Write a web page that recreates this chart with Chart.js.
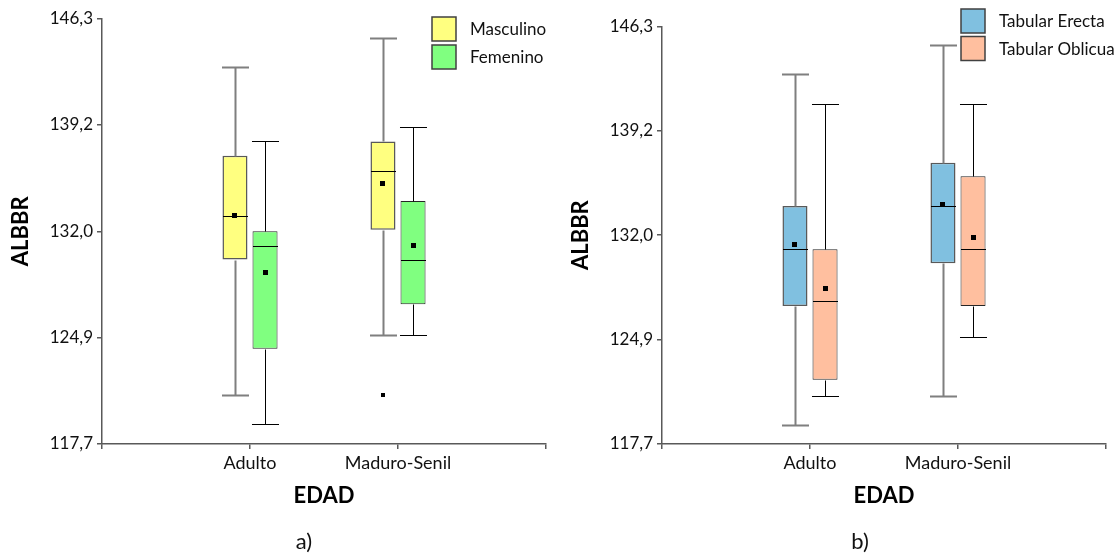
<!DOCTYPE html>
<html>
<head>
<meta charset="utf-8">
<script src="https://cdn.jsdelivr.net/npm/chart.js@4.4.1/dist/chart.umd.min.js"></script>
<style>
  html, body { margin: 0; padding: 0; background: #fff; }
  .wrap { position: absolute; top: 0; width: 560px; height: 559px; }
</style>
</head>
<body>
<div class="wrap" style="left:0"><canvas id="chartA" width="560" height="559"></canvas></div>
<div class="wrap" style="left:560px"><canvas id="chartB" width="560" height="559"></canvas></div>
<script>
const categories = ['Adulto', 'Maduro-Senil'];
const yTickValues = [117.7, 124.85, 132.0, 139.15, 146.3];
const yTickLabels = ['117,7', '124,9', '132,0', '139,2', '146,3'];

// a) by sex
const mascMin = [121.0, 125.05];
const mascQ1 = [130.1, 132.1];
const mascMedian = [133.05, 136.03];
const mascQ3 = [137.08, 138.04];
const mascMax = [143.05, 145.0];
const mascMean = [133.05, 135.2];
const mascOutliers = [[], [121.0]];

const femMin = [119.05, 125.05];
const femQ1 = [124.1, 127.1];
const femMedian = [131.0, 130.06];
const femQ3 = [132.0, 134.04];
const femMax = [138.04, 139.0];
const femMean = [129.2, 131.04];
const femOutliers = [[], []];

// b) by deformation type
const erectaMin = [119.0, 121.0];
const erectaQ1 = [127.15, 130.07];
const erectaMedian = [131.03, 134.0];
const erectaQ3 = [134.0, 136.95];
const erectaMax = [143.0, 145.05];
const erectaMean = [131.37, 134.1];
const erectaOutliers = [[], []];

const oblicuaMin = [121.0, 125.03];
const oblicuaQ1 = [122.1, 127.15];
const oblicuaMedian = [127.5, 131.03];
const oblicuaQ3 = [131.03, 136.04];
const oblicuaMax = [140.99, 141.0];
const oblicuaMean = [128.33, 131.82];
const oblicuaOutliers = [[], []];

const axisColor = '#595959';
const textColor = '#111';

// empty slots at both ends so the categories sit at 1/3 and 2/3 of the axis
const xLabels = ['', ...categories, ''];

function boxDataset(label, color, border, borderWidth, whiskerColor, whiskerWidth, mins, q1s, meds, q3s, maxs, means, outs) {
  const stats = [null];
  const data = [null];
  categories.forEach((c, i) => {
    data.push([q1s[i], q3s[i]]);
    stats.push({ min: mins[i], q1: q1s[i], median: meds[i], q3: q3s[i], max: maxs[i], mean: means[i], outliers: outs[i] });
  });
  data.push(null);
  stats.push(null);
  return {
    label,
    data,
    stats,
    backgroundColor: color,
    borderColor: border,
    borderWidth,
    borderSkipped: false,
    whiskerColor,
    whiskerWidth,
    categoryPercentage: 0.406,
    barPercentage: 0.833,
  };
}

const boxPlot = {
  id: 'boxPlot',
  afterDatasetsDraw(chart) {
    const { ctx } = chart;
    const y = chart.scales.y;
    chart.data.datasets.forEach((ds, di) => {
      chart.getDatasetMeta(di).data.forEach((bar, i) => {
        const s = ds.stats[i];
        if (!s) return;
        const x = Math.round(bar.x) + 0.5;
        const half = bar.width / 2;
        const py = (v) => Math.round(y.getPixelForValue(v)) + 0.5;
        ctx.save();
        ctx.strokeStyle = ds.whiskerColor;
        ctx.lineWidth = ds.whiskerWidth;
        ctx.beginPath();
        ctx.moveTo(x, py(s.q3));
        ctx.lineTo(x, py(s.max));
        ctx.moveTo(x - half - 1, py(s.max));
        ctx.lineTo(x + half + 1, py(s.max));
        ctx.moveTo(x, py(s.q1));
        ctx.lineTo(x, py(s.min));
        ctx.moveTo(x - half - 1, py(s.min));
        ctx.lineTo(x + half + 1, py(s.min));
        ctx.stroke();

        // median
        ctx.strokeStyle = '#000';
        ctx.lineWidth = 1;
        ctx.beginPath();
        ctx.moveTo(x - half, py(s.median));
        ctx.lineTo(x + half, py(s.median));
        ctx.stroke();

        // mean and outliers
        ctx.fillStyle = '#000';
        const my = y.getPixelForValue(s.mean);
        ctx.fillRect(Math.round(bar.x - 2.5), Math.round(my - 2.5), 5, 5);
        s.outliers.forEach((o) => {
          const oy = y.getPixelForValue(o);
          ctx.fillRect(Math.round(bar.x - 2), Math.round(oy - 2), 4, 4);
        });
        ctx.restore();
      });
    });
  },
};

const boxLegend = {
  id: 'boxLegend',
  afterDraw(chart, args, opts) {
    const { ctx } = chart;
    chart.data.datasets.forEach((ds, i) => {
      const top = opts.y + i * opts.step;
      ctx.save();
      ctx.fillStyle = ds.backgroundColor;
      ctx.fillRect(opts.x, top, opts.box, opts.box);
      ctx.strokeStyle = '#404040';
      ctx.lineWidth = 1.5;
      ctx.strokeRect(opts.x, top, opts.box, opts.box);
      ctx.fillStyle = textColor;
      ctx.font = '17px Lato';
      ctx.textBaseline = 'middle';
      ctx.textAlign = 'left';
      ctx.fillText(ds.label, opts.x + opts.box + 14, top + opts.box / 2 + 1);
      ctx.restore();
    });
  },
};

const caption = {
  id: 'caption',
  afterDraw(chart, args, opts) {
    const { ctx } = chart;
    ctx.save();
    ctx.fillStyle = textColor;
    ctx.font = '22px Lato';
    ctx.textAlign = 'center';
    ctx.textBaseline = 'middle';
    ctx.fillText(opts.text, opts.x, opts.y);
    ctx.restore();
  },
};

function makeChart(id, datasets, topPad, legendPos, captionText, captionX) {
  return new Chart(document.getElementById(id), {
    type: 'bar',
    data: { labels: xLabels, datasets },
    options: {
      responsive: false,
      animation: false,
      devicePixelRatio: 1,
      layout: { padding: { top: topPad, right: 14, bottom: 0, left: 0 } },
      plugins: {
        legend: { display: false },
        tooltip: { enabled: false },
        boxLegend: legendPos,
        caption: { text: captionText, x: captionX, y: 542 },
      },
      scales: {
        x: {
          offset: false,
          grid: { offset: false, drawOnChartArea: false, tickLength: 5, color: axisColor, lineWidth: 1.5 },
          border: { color: axisColor, width: 1.5 },
          ticks: { color: textColor, font: { family: 'Lato', size: 18 }, padding: 3, maxRotation: 0, autoSkip: false },
          title: {
            display: true,
            text: 'EDAD',
            color: '#000',
            font: { family: 'Lato', size: 22, weight: 'bold' },
            padding: { top: 0, bottom: 50 },
          },
          afterFit: (s) => { s.height = 115; },
        },
        y: {
          min: yTickValues[0],
          max: yTickValues[yTickValues.length - 1],
          afterBuildTicks: (s) => { s.ticks = yTickValues.map((v) => ({ value: v })); },
          grid: { drawOnChartArea: false, tickLength: 5, color: axisColor, lineWidth: 1.5 },
          border: { color: axisColor, width: 1.5 },
          ticks: {
            color: textColor,
            font: { family: 'Lato', size: 17 },
            padding: 4,
            callback: (v, i) => yTickLabels[i],
          },
          title: {
            display: true,
            text: 'ALBBR',
            color: '#000',
            font: { family: 'Lato', size: 22, weight: 'bold' },
            padding: { top: 8, bottom: 0 },
          },
          afterFit: (s) => { s.width = 102; },
        },
      },
    },
    plugins: [boxPlot, boxLegend, caption],
  });
}

function draw() {
  makeChart('chartA', [
    boxDataset('Masculino', '#ffff80', '#595959', 1.5, '#7f7f7f', 2,
      mascMin, mascQ1, mascMedian, mascQ3, mascMax, mascMean, mascOutliers),
    boxDataset('Femenino', '#80ff80', '#262626', 1, '#000', 1,
      femMin, femQ1, femMedian, femQ3, femMax, femMean, femOutliers),
  ], 18.5, { x: 432, y: 17, box: 24, step: 28 }, 'a)', 304);

  makeChart('chartB', [
    boxDataset('Tabular Erecta', '#80c0e0', '#595959', 1.5, '#7f7f7f', 2,
      erectaMin, erectaQ1, erectaMedian, erectaQ3, erectaMax, erectaMean, erectaOutliers),
    boxDataset('Tabular Oblicua', '#ffbf9f', '#262626', 1, '#000', 1,
      oblicuaMin, oblicuaQ1, oblicuaMedian, oblicuaQ3, oblicuaMax, oblicuaMean, oblicuaOutliers),
  ], 26.3, { x: 401, y: 9, box: 24, step: 27.5 }, 'b)', 300);
}

if (document.fonts && document.fonts.load) {
  Promise.all([document.fonts.load('17px Lato'), document.fonts.load('bold 22px Lato')]).then(draw, draw);
} else {
  draw();
}
</script>
</body>
</html>
